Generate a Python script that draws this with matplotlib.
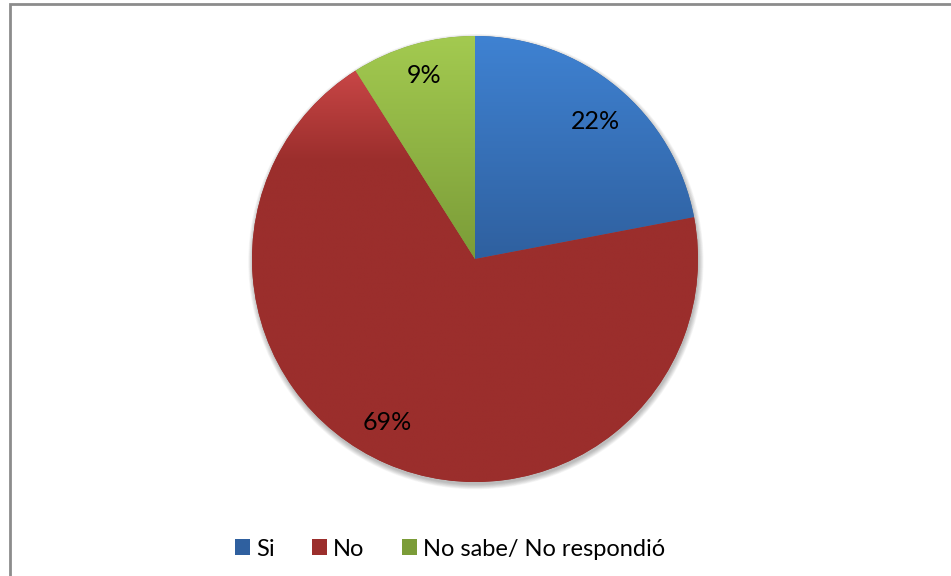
import numpy as np
import matplotlib
matplotlib.use('Agg')
from matplotlib import pyplot as plt
from matplotlib.patches import Rectangle, Circle, Patch
from matplotlib.colors import to_rgb

plt.rcParams['font.family'] = ['Lato', 'DejaVu Sans']

# survey answers (percent)
categories = ['Si', 'No', 'No sabe/ No respondió']
values = [22, 69, 9]

# top / bottom colours of each slice gradient
light_colors = ['#3f82d2', '#c84646', '#a3ca50']
dark_colors = ['#2f609f', '#9b2e2c', '#7b9c38']
# how far down (fraction of slice height) the gradient reaches the dark colour
fade = [1.0, 0.22, 1.0]
# label positions in axes units (pie radius = 1)
label_pos = [(0.538, 0.615), (-0.395, -0.732), (-0.229, 0.822)]

W, H = 951, 576
fig = plt.figure(figsize=(W / 100, H / 100), dpi=100)
fig.patch.set_facecolor('white')

cx, cy, r = 475, 259, 223
ax = fig.add_axes([(cx - r) / W, (H - cy - r) / H, 2 * r / W, 2 * r / H])

# soft shadow under the pie
for k in range(8):
    sh = Circle((0.004, -0.012), 1.0 + 0.003 * k, color='black', alpha=0.035,
                lw=0, zorder=0, clip_on=False)
    ax.add_patch(sh)

wedges, _ = ax.pie(values, startangle=90, counterclock=False, radius=1,
                   colors=dark_colors, wedgeprops=dict(linewidth=0))

for w, lc, dc, f in zip(wedges, light_colors, dark_colors, fade):
    w.set_zorder(1)
    bb = w.get_path().get_extents(w.get_transform() + ax.transData.inverted())
    y0, y1 = bb.y0, bb.y1
    ys = np.linspace(1, -1, 400)
    t = np.clip((y1 - ys) / ((y1 - y0) * f), 0, 1)
    c0, c1 = np.array(to_rgb(lc)), np.array(to_rgb(dc))
    grad = c0[None, :] + (c1 - c0)[None, :] * t[:, None]
    img = np.repeat(grad[:, None, :], 2, axis=1)
    im = ax.imshow(img, extent=[-1, 1, -1, 1], origin='upper', aspect='auto',
                   interpolation='bilinear', zorder=2)
    im.set_clip_path(w)

for v, (x, y) in zip(values, label_pos):
    ax.text(x, y, f'{v}%', ha='center', va='center', fontsize=18, color='black', zorder=5)

ax.set_xlim(-1, 1)
ax.set_ylim(-1, 1)
ax.set_aspect('auto')
ax.axis('off')

# legend
handles = [Patch(facecolor=c, edgecolor='none') for c in dark_colors]
fig.legend(handles, categories, loc='center', bbox_to_anchor=(450 / W, 1 - 549 / H),
           ncol=3, frameon=False, fontsize=17, handlelength=0.64, handleheight=0.64,
           handletextpad=0.25, columnspacing=1.57, borderpad=0)

# chart area frame
fig.patches.append(Rectangle((9.5 / W, -0.1), 1.2, 1.1 - 4 / H, transform=fig.transFigure,
                             fill=False, edgecolor='#8c8c8c', linewidth=2))

fig.savefig('out.png', dpi=100)
